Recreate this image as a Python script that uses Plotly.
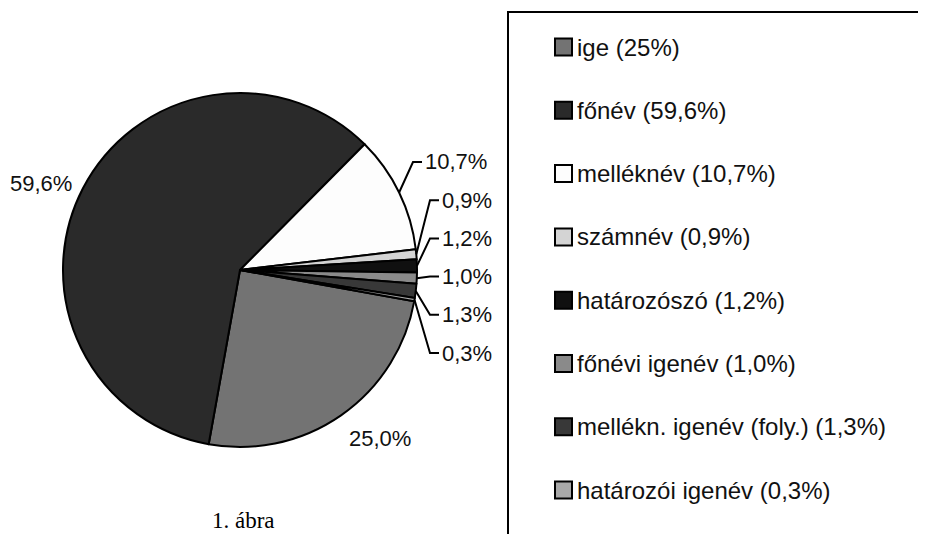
import math
import plotly.graph_objects as go

# ---------------- data ----------------
labels = ["ige", "főnév", "melléknév", "számnév", "határozószó",
          "főnévi igenév", "mellékn. igenév (foly.)", "határozói igenév"]
values = [25.0, 59.6, 10.7, 0.9, 1.2, 1.0, 1.3, 0.3]
legend_pct = ["25%", "59,6%", "10,7%", "0,9%", "1,2%", "1,0%", "1,3%", "0,3%"]
slice_text = ["25,0%", "59,6%", "10,7%", "0,9%", "1,2%", "1,0%", "1,3%", "0,3%"]
caption = "1. ábra"

# ---------------- style ----------------
colors = ["#737373", "#2a2a2a", "#fdfdfd", "#d4d4d4", "#101010",
          "#8a8a8a", "#383838", "#a8a8a8"]
OFF = 8                             # default page body margin
W, H = 926 - OFF, 534 - OFF         # figure size so it fits the window
CX, CY, R = 240, 270, 177          # pie centre / radius in window pixels
START = -10.2                       # math angle (deg) where first slice starts
FONT = "Liberation Sans, Arial, sans-serif"
TXT = "#111111"


def px(x):
    return (x - OFF) / W


def py(y):
    return 1 - (y - OFF) / H


fig = go.Figure()
fig.add_trace(go.Pie(
    labels=labels, values=values, sort=False, direction="clockwise",
    rotation=90 - START,
    marker=dict(colors=colors, line=dict(color="#000000", width=2)),
    textinfo="none", hoverinfo="label+percent", showlegend=False,
    domain=dict(x=[px(CX - R), px(CX + R)], y=[py(CY + R), py(CY - R)]),
))

shapes = []
annotations = []

# slice mid angles derived from the values
total = sum(values)
mids = []
acc = 0.0
for v in values:
    a0 = START - acc / total * 360
    a1 = a0 - v / total * 360
    mids.append((a0 + a1) / 2)
    acc += v

# big-slice labels (outside, no leader)
big_anchor = {0: ("left", "top"), 1: ("right", "middle")}
for i, (xa, ya) in big_anchor.items():
    m = math.radians(mids[i])
    x = CX + 1.06 * R * math.cos(m)
    y = CY - 1.06 * R * math.sin(m)
    annotations.append(dict(x=px(x), y=py(y), xref="paper", yref="paper",
                            text=slice_text[i], showarrow=False,
                            xanchor=xa, yanchor=ya,
                            font=dict(family=FONT, size=22, color=TXT)))

# small-slice labels with elbow leader lines
small = [2, 3, 4, 5, 6, 7]
for k, i in enumerate(small):
    m = math.radians(mids[i])
    x0 = CX + R * math.cos(m)
    y0 = CY - R * math.sin(m)
    ly = 162 + 38.2 * k
    ex = 413 if k == 0 else 430
    tx = ex + 9
    path = f"M {px(x0)},{py(y0)} L {px(ex)},{py(ly)} L {px(tx)},{py(ly)}"
    shapes.append(dict(type="path", xref="paper", yref="paper", path=path,
                       line=dict(color="#000000", width=2)))
    annotations.append(dict(x=px(tx + 1), y=py(ly), xref="paper", yref="paper",
                            text=slice_text[i], showarrow=False,
                            xanchor="left", yanchor="middle",
                            font=dict(family=FONT, size=22, color=TXT)))

# legend box
shapes.append(dict(type="rect", xref="paper", yref="paper",
                   x0=px(508), x1=px(945), y0=py(560), y1=py(12),
                   line=dict(color="#000000", width=2), fillcolor="rgba(0,0,0,0)"))
for i, lab in enumerate(labels):
    y = 47 + 63.3 * i
    shapes.append(dict(type="rect", xref="paper", yref="paper",
                       x0=px(555), x1=px(572), y0=py(y + 8.5), y1=py(y - 8.5),
                       line=dict(color="#000000", width=2), fillcolor=colors[i]))
    annotations.append(dict(x=px(575), y=py(y), xref="paper", yref="paper",
                            text=f"{lab} ({legend_pct[i]})", showarrow=False,
                            xanchor="left", yanchor="middle",
                            font=dict(family=FONT, size=24, color=TXT)))

# caption at the bottom
annotations.append(dict(x=px(243), y=py(535), xref="paper", yref="paper",
                        text=caption, showarrow=False, xanchor="center",
                        yanchor="bottom",
                        font=dict(family="Liberation Serif, Times New Roman, serif",
                                  size=23, color="#000000")))

fig.update_layout(width=W, height=H, margin=dict(l=0, r=0, t=0, b=0),
                  paper_bgcolor="white", plot_bgcolor="white",
                  showlegend=False, shapes=shapes, annotations=annotations)

fig.write_html("out.html")
